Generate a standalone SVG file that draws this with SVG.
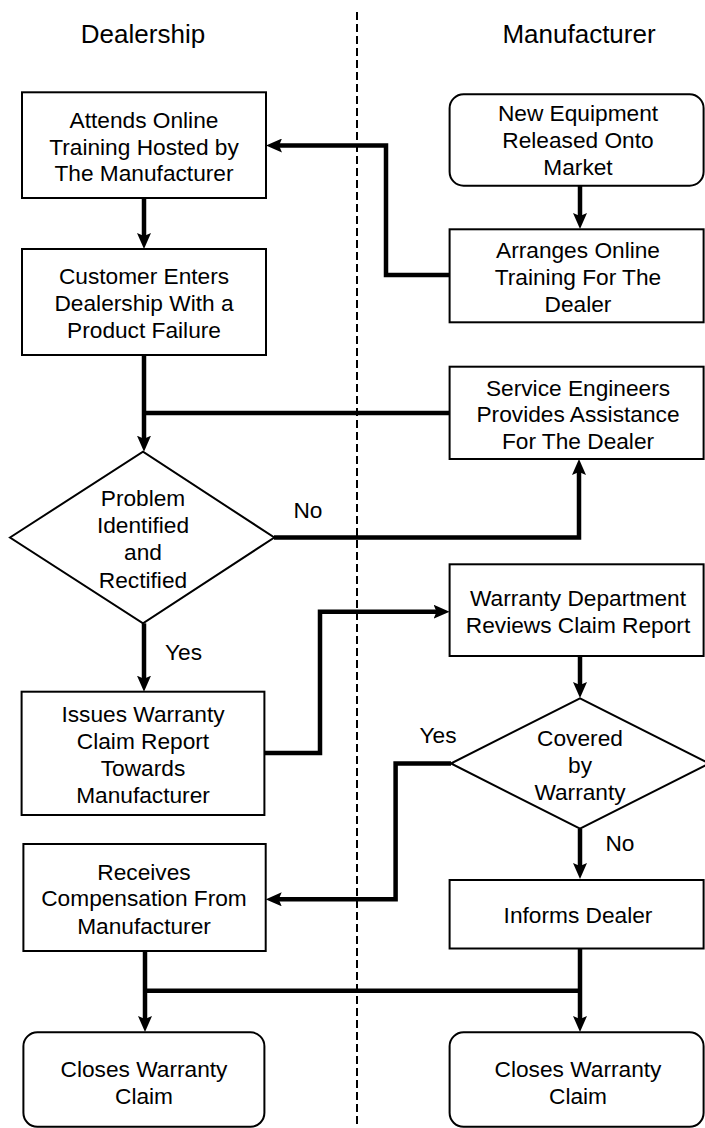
<svg xmlns="http://www.w3.org/2000/svg" width="705" height="1128" viewBox="0 0 705 1128">
<style>
.box{fill:#fff;stroke:#000;stroke-width:2}
.t{font-family:"Liberation Sans",Arial,sans-serif;font-size:22.7px;fill:#000;text-anchor:middle}
.title{font-family:"Liberation Sans",Arial,sans-serif;font-size:26px;fill:#000;text-anchor:middle}
.c{fill:none;stroke:#000;stroke-width:4.5;stroke-linejoin:miter}
.lane{fill:none;stroke:#000;stroke-width:2;stroke-dasharray:8 4}
</style>
<defs>
<marker id="ah" viewBox="0 0 16 14" refX="8" refY="7" markerWidth="16" markerHeight="14" markerUnits="userSpaceOnUse" orient="auto">
<path d="M0,0 L16,7 L0,14 L3,7 Z" fill="#000"/>
</marker>
</defs>
<rect width="705" height="1128" fill="#fff"/>
<line class="lane" x1="357" y1="12" x2="357" y2="1124"/>
<text class="title" x="143" y="43">Dealership</text>
<text class="title" x="579" y="43">Manufacturer</text>

<g id="connectors">
<path class="c" d="M144,198 V241" marker-end="url(#ah)"/>
<path class="c" d="M580,186 V221" marker-end="url(#ah)"/>
<path class="c" d="M449.6,275 H386 V145.5 H274" marker-end="url(#ah)"/>
<path class="c" d="M144,355 V443.7" marker-end="url(#ah)"/>
<path class="c" d="M449.6,413 H144"/>
<path class="c" d="M274,537.5 H579 V467" marker-end="url(#ah)"/>
<path class="c" d="M144,623.3 V683.7" marker-end="url(#ah)"/>
<path class="c" d="M264.4,753 H320 V611.7 H441.6" marker-end="url(#ah)"/>
<path class="c" d="M580,656 V690" marker-end="url(#ah)"/>
<path class="c" d="M451,763.5 H395.6 V899.3 H273.7" marker-end="url(#ah)"/>
<path class="c" d="M580,829 V871" marker-end="url(#ah)"/>
<path class="c" d="M145,951 V1024" marker-end="url(#ah)"/>
<path class="c" d="M580,949 V1024" marker-end="url(#ah)"/>
<path class="c" d="M145,990.7 H580"/>
</g>

<g id="attends">
<rect class="box" x="22" y="92.3" width="244" height="105.7"/>
<text class="t" x="144" y="128">Attends Online</text>
<text class="t" x="144" y="155">Training Hosted by</text>
<text class="t" x="144" y="181">The Manufacturer</text>
</g>
<g id="customer">
<rect class="box" x="22" y="249" width="244" height="106"/>
<text class="t" x="144" y="284">Customer Enters</text>
<text class="t" x="144" y="311">Dealership With a</text>
<text class="t" x="144" y="338">Product Failure</text>
</g>
<g id="newequip">
<rect class="box" x="449.6" y="94.3" width="254" height="91.4" rx="14" ry="14"/>
<text class="t" x="578" y="121">New Equipment</text>
<text class="t" x="578" y="148">Released Onto</text>
<text class="t" x="578" y="175">Market</text>
</g>
<g id="arranges">
<rect class="box" x="449.6" y="229.3" width="254" height="93"/>
<text class="t" x="578" y="258">Arranges Online</text>
<text class="t" x="578" y="285">Training For The</text>
<text class="t" x="578" y="312">Dealer</text>
</g>
<g id="service">
<rect class="box" x="449.6" y="366.7" width="254" height="92.3"/>
<text class="t" x="578" y="396">Service Engineers</text>
<text class="t" x="578" y="422">Provides Assistance</text>
<text class="t" x="578" y="449">For The Dealer</text>
</g>
<g id="problem">
<polygon class="box" points="10,537.5 143,451.7 274.3,537.5 143,623.3"/>
<text class="t" x="143" y="506">Problem</text>
<text class="t" x="143" y="532.5">Identified</text>
<text class="t" x="143" y="560">and</text>
<text class="t" x="143" y="588">Rectified</text>
</g>
<text class="t" x="308" y="517.5">No</text>
<text class="t" x="183.5" y="660">Yes</text>
<g id="issues">
<rect class="box" x="21.6" y="691.7" width="242.8" height="123.3"/>
<text class="t" x="143" y="722">Issues Warranty</text>
<text class="t" x="143" y="749">Claim Report</text>
<text class="t" x="143" y="776">Towards</text>
<text class="t" x="143" y="803">Manufacturer</text>
</g>
<g id="warranty">
<rect class="box" x="449.6" y="564.3" width="254" height="91.7"/>
<text class="t" x="578" y="606">Warranty Department</text>
<text class="t" x="578" y="633">Reviews Claim Report</text>
</g>
<g id="covered">
<polygon class="box" points="451,763.5 580,698.3 709,763.5 580,828.7"/>
<text class="t" x="580" y="746">Covered</text>
<text class="t" x="580" y="773">by</text>
<text class="t" x="580" y="800">Warranty</text>
</g>
<text class="t" x="438" y="743">Yes</text>
<text class="t" x="620" y="851">No</text>
<g id="receives">
<rect class="box" x="23.4" y="844" width="242.3" height="107"/>
<text class="t" x="144" y="880">Receives</text>
<text class="t" x="144" y="906">Compensation From</text>
<text class="t" x="144" y="934">Manufacturer</text>
</g>
<g id="informs">
<rect class="box" x="449.6" y="880" width="254" height="68.5"/>
<text class="t" x="578" y="923">Informs Dealer</text>
</g>
<g id="closes-dealer">
<rect class="box" x="23.4" y="1032.3" width="241" height="94.5" rx="14" ry="14"/>
<text class="t" x="144" y="1077">Closes Warranty</text>
<text class="t" x="144" y="1104">Claim</text>
</g>
<g id="closes-manufacturer">
<rect class="box" x="449.6" y="1032.3" width="254" height="94.5" rx="14" ry="14"/>
<text class="t" x="578" y="1077">Closes Warranty</text>
<text class="t" x="578" y="1104">Claim</text>
</g>
</svg>
